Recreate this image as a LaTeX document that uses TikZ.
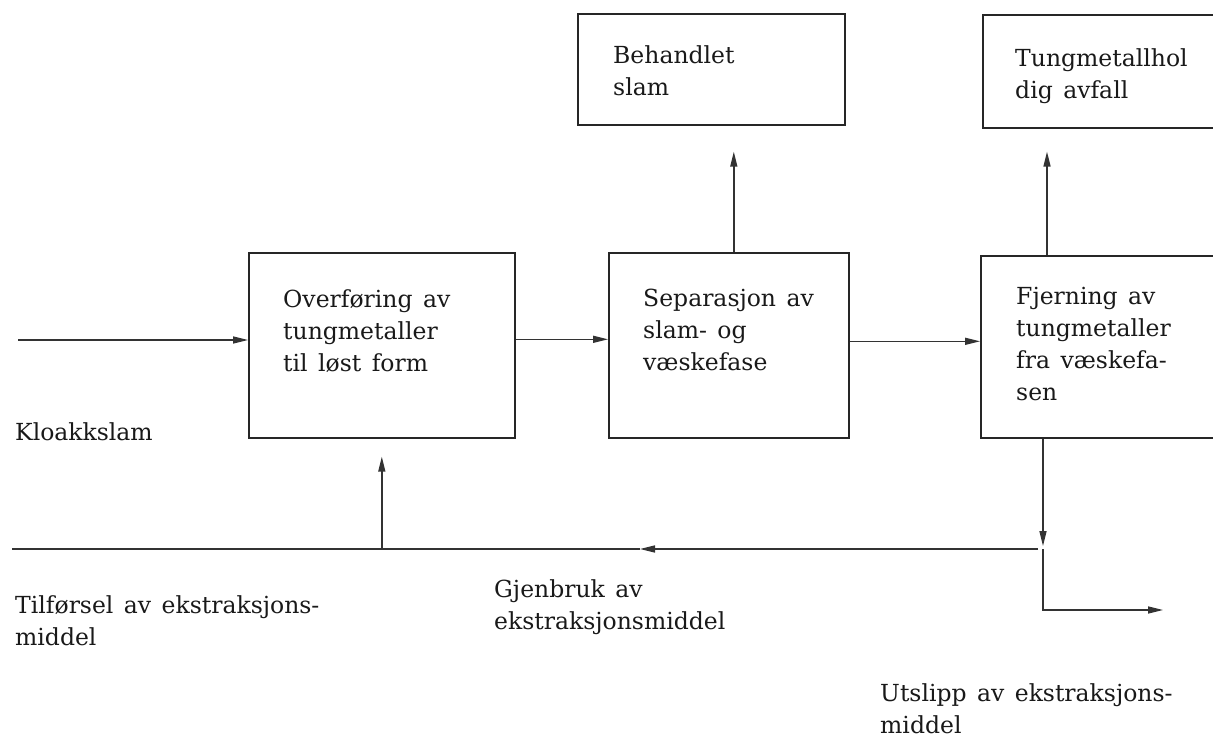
\documentclass[tikz,border=0pt]{standalone}
\usepackage{fontspec}
\setmainfont[WordSpace=1.4]{DejaVu Serif}
\usetikzlibrary{arrows.meta}
\begin{document}
\begin{tikzpicture}[x=1pt,y=-1pt,
  every node/.style={font=\fontsize{23.5}{32}\selectfont, text=black!90},
  box/.style={draw=black!85, line width=1.6pt, rectangle, inner sep=0pt, anchor=north west},
  txt/.style={anchor=north west, inner sep=0pt, align=left},
  flow/.style={draw=black!80, line width=1.4pt},
  arr/.style={flow, -{Triangle[length=15pt,width=7pt]}}]
\clip (0,0) rectangle (1213,740);
\fill[white] (0,0) rectangle (1213,740);

% process boxes
\node[box, minimum width=266pt, minimum height=185pt] (b1) at (248,252) {};
\node[box, minimum width=240pt, minimum height=185pt] (b2) at (608,252) {};
\node[box, minimum width=280pt, minimum height=182pt] (b3) at (980,255) {};
% output boxes
\node[box, minimum width=267pt, minimum height=111pt] (slam) at (577,13) {};
\node[box, minimum width=280pt, minimum height=113pt] (avf) at (982,14) {};

% box texts
\node[txt] (t1) at (283,289) {Overføring av\\tungmetaller\\til løst form};
\node[txt] (t2) at (643,289) {Separasjon av\\slam- og\\væskefase};
\node[txt] (t3) at (1016,287) {Fjerning av\\tungmetaller\\fra væskefa-\\sen};
\node[txt] (t4) at (613,45) {Behandlet\\slam};
\node[txt] (t5) at (1015,48) {Tungmetallhol\\dig avfall};

% free labels
\node[txt] (l1) at (15,422) {Kloakkslam};
\node[txt] (l2) at (15,595) {Tilførsel av ekstraksjons-\\middel};
\node[txt] (l3) at (494,579) {Gjenbruk av\\ekstraksjonsmiddel};
\node[txt] (l4) at (880,683) {Utslipp av ekstraksjons-\\middel};

% main flow
\coordinate (in) at (18,340);
\draw[arr] (in) -- (b1.west |- in);
\draw[arr] ([yshift=6pt]b1.east) -- ([yshift=6pt]b1.east -| b2.west);
\draw[arr] ([yshift=4pt]b2.east) -- ([yshift=4pt]b2.east -| b3.west);

% outputs upward
\draw[arr, shorten >=26pt] ([xshift=5pt]b2.north) -- ([xshift=5pt]b2.north |- slam.south);
\draw[arr, shorten >=23pt] ([xshift=67pt]b3.north west) -- ([xshift=67pt]b3.north west |- avf.south);

% extractant loop
\coordinate (J) at (1043,549);
\coordinate (mid) at (640,549);
\coordinate (bl) at (12,549);
\coordinate (corner) at (1043,610);
\coordinate (out) at (1163,610);
\draw[arr, shorten >=3pt] (b3.south west -| J) -- (J);
\draw[arr] ([xshift=-5pt]J) -- (mid);
\draw[flow] (mid) -- (bl);
\draw[arr, shorten >=18pt] (b1.south |- J) -- (b1.south);
\draw[arr] (J) -- (corner) -- (out);
\end{tikzpicture}
\end{document}
